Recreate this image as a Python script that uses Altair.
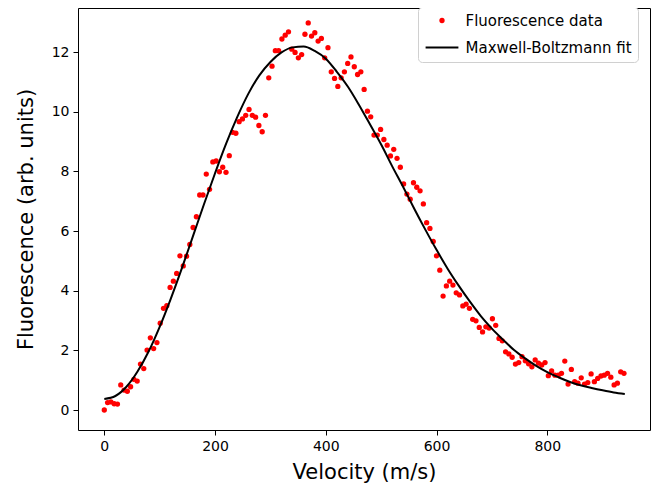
import altair as alt
import pandas as pd

# Measured fluorescence (arb. units), one reading every VELOCITY_STEP m/s starting at 0
fluorescence = [
    0.00, 0.25, 0.27, 0.21, 0.20, 0.84, 0.67, 0.63, 0.78, 1.03,
    0.97, 1.54, 1.39, 2.01, 2.42, 2.06, 2.26, 2.91, 3.41, 3.50,
    4.11, 4.32, 4.58, 5.17, 4.83, 5.16, 5.55, 6.12, 6.48, 7.21,
    7.21, 7.91, 7.40, 8.32, 8.35, 7.99, 8.14, 7.97, 8.53, 9.31,
    9.28, 9.67, 9.76, 9.88, 10.08, 9.88, 9.82, 9.54, 9.33, 9.88,
    11.14, 11.53, 12.05, 12.05, 12.44, 12.57, 12.68, 12.10, 11.99, 11.81,
    11.92, 12.60, 12.98, 12.54, 12.65, 12.37, 12.46, 11.81, 12.15, 11.34,
    11.12, 10.85, 11.14, 11.34, 11.62, 11.84, 11.51, 11.25, 11.34, 10.75,
    10.02, 9.83, 9.22, 9.22, 9.41, 9.07, 8.88, 8.52, 8.74, 8.44,
    8.14, 7.58, 7.24, 7.07, 7.62, 7.47, 7.35, 6.91, 6.28, 6.09,
    5.65, 5.17, 4.69, 3.82, 4.16, 4.32, 4.19, 3.93, 3.86, 3.49,
    3.55, 3.41, 3.04, 2.99, 2.77, 2.62, 2.79, 2.75, 3.06, 2.84,
    2.40, 2.32, 1.95, 1.88, 1.77, 1.54, 1.59, 1.79, 1.65, 1.55,
    1.45, 1.68, 1.57, 1.51, 1.59, 1.15, 1.31, 1.17, 1.17, 1.23,
    1.64, 0.87, 1.36, 0.95, 0.90, 1.08, 0.87, 0.92, 1.21, 0.95,
    1.06, 1.14, 1.17, 1.23, 1.10, 0.84, 0.90, 1.28, 1.23,
]
VELOCITY_STEP = 5.94
velocity = [round(i * VELOCITY_STEP, 2) for i in range(len(fluorescence))]

# Fit curve, every 20 m/s
fit_velocity = [
    0, 20, 40, 60, 80, 100, 120, 140, 160, 180,
    200, 220, 240, 260, 280, 300, 320, 340, 360, 380,
    400, 420, 440, 460, 480, 500, 520, 540, 560, 580,
    600, 620, 640, 660, 680, 700, 720, 740, 760, 780,
    800, 820, 840, 860, 880, 900, 920, 940,
]
fit_values = [
    0.37, 0.47, 0.78, 1.29, 1.96, 2.79, 3.73, 4.75, 5.82, 6.90,
    7.94, 8.93, 9.82, 10.60, 11.22, 11.67, 11.99, 12.16, 12.19, 12.04,
    11.78, 11.34, 10.84, 10.23, 9.57, 8.90, 8.17, 7.47, 6.74, 6.04,
    5.37, 4.74, 4.17, 3.64, 3.15, 2.73, 2.36, 2.01, 1.73, 1.48,
    1.27, 1.10, 0.95, 0.83, 0.74, 0.66, 0.59, 0.54,
]

series_names = ["Fluorescence data", "Maxwell-Boltzmann fit"]
x_ticks = [0, 200, 400, 600, 800]
y_ticks = [0, 2, 4, 6, 8, 10, 12]

data_df = pd.DataFrame({"v": velocity, "f": fluorescence, "series": series_names[0]})
fit_df = pd.DataFrame({"v": fit_velocity, "f": fit_values})

FONT = "DejaVu Sans"
x_scale = alt.Scale(domain=[-47.5, 985.5], nice=False, zero=False)
y_scale = alt.Scale(domain=[-0.67, 13.48], nice=False, zero=False)

x_axis = alt.Axis(title="Velocity (m/s)", values=x_ticks, titlePadding=8)
y_axis = alt.Axis(title="Fluorescence (arb. units)", values=y_ticks, titlePadding=15)

LINE_SYMBOL = "M-6.2,-0.38H6.2V0.38H-6.2Z"

legend = alt.Legend(
    title=None,
    orient="none",
    legendX=340,
    legendY=-1,
    padding=6,
    fillColor="white",
    strokeColor="#d0d0d0",
    cornerRadius=4,
    labelFont=FONT,
    labelFontSize=15,
    labelColor="black",
    labelOffset=16,
    labelLimit=400,
    symbolOffset=10.5,
    rowPadding=11,
    symbolSize=28,
    symbolStrokeWidth=0,
    symbolOpacity=1,
)

points = alt.Chart(data_df).mark_point(filled=True, size=28, opacity=1).encode(
    x=alt.X("v:Q", scale=x_scale, axis=x_axis),
    y=alt.Y("f:Q", scale=y_scale, axis=y_axis),
    color=alt.Color("series:N", scale=alt.Scale(domain=series_names, range=["#ff0000", "#000000"]), legend=legend),
    shape=alt.Shape("series:N", scale=alt.Scale(domain=series_names, range=["circle", LINE_SYMBOL]), legend=legend),
)

fit_line = alt.Chart(fit_df).mark_line(color="black", strokeWidth=2, interpolate="monotone").encode(
    x=alt.X("v:Q", scale=x_scale),
    y=alt.Y("f:Q", scale=y_scale),
)

chart = (
    alt.layer(points, fit_line)
    .properties(
        width=572,
        height=422,
        padding={"left": 70, "top": 0, "right": 4, "bottom": 54},
        autosize=alt.AutoSizeParams(type="none"),
    )
    .configure_view(stroke="black", strokeWidth=1)
    .configure_axis(
        domain=False,
        grid=False,
        tickColor="black",
        tickSize=5,
        tickWidth=1,
        labelFont=FONT,
        labelFontSize=14,
        labelColor="black",
        labelPadding=4,
        titleFont=FONT,
        titleFontSize=21,
        titleFontWeight="normal",
        titleColor="black",
    )
)

chart.save("out.html", embed_options={"renderer": "svg", "actions": False})
